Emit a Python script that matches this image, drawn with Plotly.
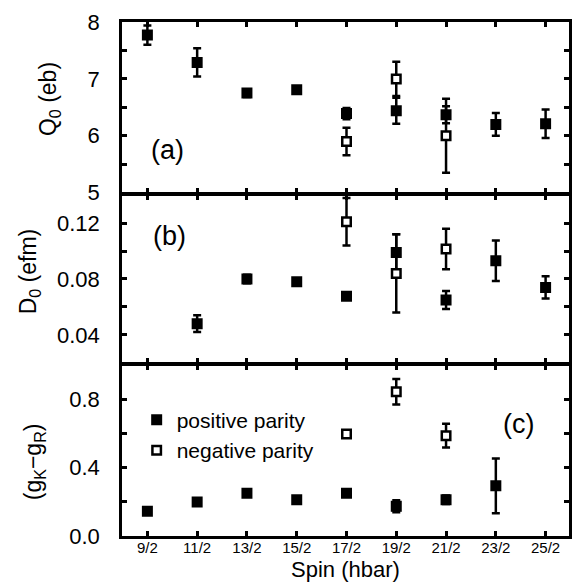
import plotly.graph_objects as go
from plotly.subplots import make_subplots

spin_labels = ["9/2", "11/2", "13/2", "15/2", "17/2", "19/2", "21/2", "23/2", "25/2"]
spin_values = [4.5, 5.5, 6.5, 7.5, 8.5, 9.5, 10.5, 11.5, 12.5]

# Panel (a): Q0 (eb)
q0_pos = [7.77, 7.29, 6.75, 6.81, 6.39, 6.44, 6.37, 6.20, 6.21]
q0_pos_err = [0.17, 0.25, 0.07, 0.05, 0.10, 0.23, 0.15, 0.20, 0.25]
q0_neg = [None, None, None, None, 5.90, 7.00, 6.00, None, None]
q0_neg_err = [0, 0, 0, 0, 0.24, 0.30, 0.65, 0, 0]

# Panel (b): D0 (efm)
d0_pos = [None, 0.048, 0.080, 0.078, 0.0676, 0.099, 0.065, 0.093, 0.074]
d0_pos_err = [0, 0.006, 0.003, 0, 0, 0.013, 0.0065, 0.0145, 0.008]
d0_neg = [None, None, None, None, 0.121, 0.084, 0.1015, None, None]
d0_neg_err = [0, 0, 0, 0, 0.017, 0.028, 0.0145, 0, 0]

# Panel (c): gK - gR
g_pos = [0.145, 0.199, 0.251, 0.213, 0.251, 0.174, 0.213, 0.294, None]
g_pos_err = [0, 0, 0, 0, 0, 0.035, 0.025, 0.16, 0]
g_neg = [None, None, None, None, 0.597, 0.845, 0.588, None, None]
g_neg_err = [0, 0, 0, 0, 0.02, 0.075, 0.07, 0, 0]

legend_names = ["positive parity", "negative parity"]

FONT = "Liberation Sans, Arial, sans-serif"
LW = 2.5

W, H = 581, 584
# axis-line centres (screen px)
X_LEFT, X_RIGHT = 121, 573
Y_LINES = [15, 190, 362, 537]

L = X_LEFT + LW / 2
R = W - (X_RIGHT - LW / 2)
T = Y_LINES[0] + LW / 2
B = H - (Y_LINES[-1] - LW / 2)
pw, ph = W - L - R, H - T - B


def px(x):
    return (x - L) / pw


def py(y):
    return (H - B - y) / ph


fig = make_subplots(rows=3, cols=1, shared_xaxes=True, vertical_spacing=0)

panels = [
    (q0_pos, q0_pos_err, q0_neg, q0_neg_err),
    (d0_pos, d0_pos_err, d0_neg, d0_neg_err),
    (g_pos, g_pos_err, g_neg, g_neg_err),
]

for i, (yp, ep, yn, en) in enumerate(panels):
    row = i + 1
    show = (row == 3)
    fig.add_trace(go.Scatter(
        x=spin_values, y=yp, mode="markers", name=legend_names[0],
        showlegend=show, legendrank=1,
        marker=dict(symbol="square", size=11, color="black", line=dict(width=0)),
        error_y=dict(type="data", array=ep, visible=True, color="black",
                     thickness=2.5, width=4),
    ), row=row, col=1)
    fig.add_trace(go.Scatter(
        x=spin_values, y=yn, mode="markers", name=legend_names[1],
        showlegend=show, legendrank=2,
        marker=dict(symbol="square", size=8.5, color="white",
                    line=dict(width=2.5, color="black")),
        error_y=dict(type="data", array=en, visible=True, color="black",
                     thickness=2.5, width=4),
    ), row=row, col=1)

axis_common = dict(showline=True, linewidth=LW, linecolor="black", mirror="allticks",
                   ticks="inside", ticklen=5, tickwidth=2.5, tickcolor="black",
                   showgrid=False, zeroline=False)

for r in range(1, 4):
    fig.update_xaxes(range=[3.99, 12.97], tickvals=spin_values, ticktext=spin_labels,
                     showticklabels=(r == 3), row=r, col=1, **axis_common)

fig.update_xaxes(tickfont=dict(size=15, family=FONT, color="black"),
                 ticklabelstandoff=-4, row=3, col=1)

minor_common = dict(ticks="inside", ticklen=5, tickwidth=2.5, tickcolor="black", showgrid=False)
yfont = dict(size=22, family=FONT, color="black")

# panel domains: line centres at Y_LINES, each domain inset by LW/2
doms = []
for k in range(3):
    top_px = Y_LINES[k] + LW / 2
    bot_px = Y_LINES[k + 1] - LW / 2
    doms.append([py(bot_px), py(top_px)])

fig.update_yaxes(range=[5, 8], tickvals=[5, 6, 7, 8], ticktext=["5", "6", "7", "8"],
                 minor=dict(dtick=0.5, tick0=5, **minor_common), domain=doms[0],
                 tickfont=yfont, ticklabelstandoff=15, row=1, col=1, **axis_common)
fig.update_yaxes(range=[0.02, 0.14], tickvals=[0.04, 0.08, 0.12],
                 ticktext=["0.04", "0.08", "0.12"],
                 minor=dict(dtick=0.02, tick0=0.0, **minor_common), domain=doms[1],
                 tickfont=yfont, ticklabelstandoff=15, row=2, col=1, **axis_common)
fig.update_yaxes(range=[0, 1.0], tickvals=[0, 0.4, 0.8], ticktext=["0.0", "0.4", "0.8"],
                 minor=dict(dtick=0.2, tick0=0.0, **minor_common), domain=doms[2],
                 tickfont=yfont, ticklabelstandoff=15, row=3, col=1, **axis_common)

annots = [
    ("Q<sub>0</sub> (eb)", 50, 94, -90, 23),
    ("D<sub>0</sub> (efm)", 29, 268, -90, 23),
    ("(g<sub>K</sub>−g<sub>R</sub>)", 34, 461, -90, 23),
    ("(a)", 168, 146, 0, 27),
    ("(b)", 170, 233, 0, 27),
    ("(c)", 521, 423, 0, 27),
    ("Spin (hbar)", 347, 570, 0, 22),
]
for text, x, y, ang, size in annots:
    fig.add_annotation(text=text, x=px(x), y=py(y), xref="paper", yref="paper",
                       showarrow=False, textangle=ang, xanchor="center", yanchor="middle",
                       font=dict(size=size, family=FONT, color="black"))

fig.update_layout(
    width=W, height=H,
    margin=dict(l=L, r=R, t=T, b=B),
    plot_bgcolor="white", paper_bgcolor="white",
    font=dict(family=FONT, color="black"),
    legend=dict(x=px(137), y=py(398), xanchor="left", yanchor="top",
                bgcolor="rgba(0,0,0,0)", borderwidth=0,
                font=dict(size=21, family=FONT, color="black"),
                tracegroupgap=0, itemwidth=30),
)

fig.write_html("out.html", config={"displayModeBar": False},
               post_script="document.body.style.margin='0px';document.body.style.overflow='hidden';")
